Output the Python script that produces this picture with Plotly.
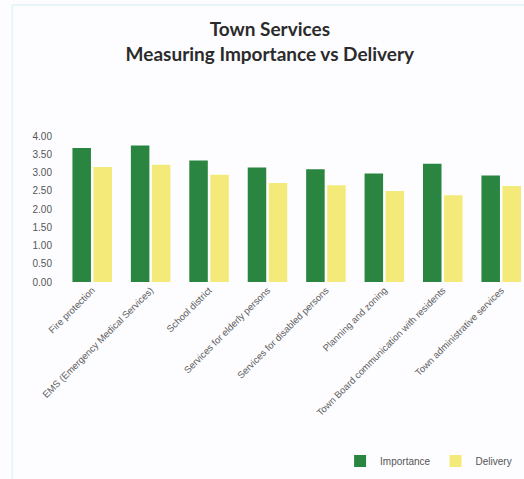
import plotly.graph_objects as go

categories = [
    "Fire protection",
    "EMS (Emergency Medical Services)",
    "School district",
    "Services for elderly persons",
    "Services for disabled persons",
    "Planning and zoning",
    "Town Board communication with residents",
    "Town administrative services",
]
importance = [3.67, 3.74, 3.33, 3.14, 3.09, 2.97, 3.24, 2.92]
delivery = [3.15, 3.21, 2.94, 2.71, 2.65, 2.49, 2.38, 2.63]
y_ticks = [0, 0.5, 1.0, 1.5, 2.0, 2.5, 3.0, 3.5, 4.0]

W, H = 524, 479
PLOT_H = 146
fig = go.Figure()
fig.add_trace(go.Bar(name="Importance", x=categories, y=importance,
                     marker=dict(color="#2a8540", line=dict(width=0))))
fig.add_trace(go.Bar(name="Delivery", x=categories, y=delivery,
                     marker=dict(color="#f4ea7a", line=dict(width=0))))

fig.update_layout(
    width=W, height=H,
    margin=dict(l=63, r=0, t=136, b=197),
    paper_bgcolor="#fdfdff", plot_bgcolor="#fdfdff",
    barmode="group", bargap=0.28, bargroupgap=0.12,
    font=dict(family="Liberation Sans, Arial", color="#555"),
    title=dict(
        text="Town Services<br>Measuring Importance vs Delivery",
        x=0.515, xanchor="center", y=0.925, yanchor="top",
        font=dict(family="Lato", size=19, color="#2b2b2b", weight="bold"),
    ),
    xaxis=dict(
        range=[-0.5, 7.39], tickangle=-45, showgrid=False, showline=False,
        ticks="", tickfont=dict(size=9.5, color="#606060"),
    ),
    yaxis=dict(
        range=[0, 4], tickvals=y_ticks, tickformat=".2f", showgrid=False,
        showline=False, zeroline=False, ticks="", ticklabelstandoff=10,
        tickfont=dict(size=10, color="#555"),
    ),
    legend=dict(
        orientation="h", x=0.985, xanchor="right", y=-179 / PLOT_H, yanchor="middle",
        font=dict(size=10, color="#555"), itemwidth=30, tracegroupgap=0,
        bgcolor="rgba(0,0,0,0)",
    ),
    shapes=[
        dict(type="line", xref="paper", yref="paper", x0=-0.11, x1=-0.11,
             y0=-1.35, y1=1.0 + 131 / PLOT_H, line=dict(color="#e6f6f8", width=2)),
        dict(type="line", xref="paper", yref="paper", x0=-0.11, x1=1.0,
             y0=1.0 + 131 / PLOT_H, y1=1.0 + 131 / PLOT_H,
             line=dict(color="#e6f6f8", width=2)),
    ],
)

fig.write_html("out.html")
